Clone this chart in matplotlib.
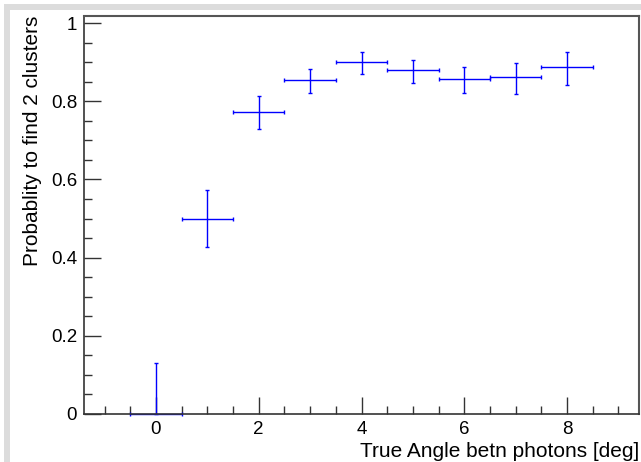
import matplotlib
matplotlib.use("Agg")
import matplotlib.pyplot as plt
from matplotlib.patches import Rectangle
from matplotlib.ticker import MultipleLocator

angles = [0, 1, 2, 3, 4, 5, 6, 7, 8]
prob = [0.0, 0.499, 0.773, 0.854, 0.901, 0.879, 0.857, 0.863, 0.888]
err_low = [0.0, 0.073, 0.045, 0.034, 0.031, 0.032, 0.037, 0.045, 0.047]
err_high = [0.130, 0.074, 0.041, 0.029, 0.024, 0.026, 0.030, 0.036, 0.037]
x_half = [0.5] * 9

plt.rcParams['font.family'] = ['Liberation Sans', 'DejaVu Sans']

W, H = 641, 462
fig = plt.figure(figsize=(W / 100, H / 100), dpi=100)
fig.patch.set_facecolor('white')
# window frame strips
fig.patches.append(Rectangle((4 / W, 0), 6 / W, (H - 4) / H, transform=fig.transFigure,
                             facecolor='#dcdcdc', edgecolor='none', zorder=0))
fig.patches.append(Rectangle((4 / W, (H - 10) / H), (W - 4) / W, 6 / H, transform=fig.transFigure,
                             facecolor='#dcdcdc', edgecolor='none', zorder=0))

left, right, top, bottom = 84, 639, 16, 414
ax = fig.add_axes([left / W, 1 - bottom / H, (right - left) / W, (bottom - top) / H])

ax.errorbar(angles, prob, xerr=x_half, yerr=[err_low, err_high], fmt='none',
            ecolor='#0000ff', elinewidth=1.0, capsize=1.5, capthick=1.0, clip_on=False)

ax.set_xlim(-1.4, 9.4)
ax.set_ylim(0, 1.018)

ax.xaxis.set_major_locator(MultipleLocator(2))
ax.xaxis.set_minor_locator(MultipleLocator(0.5))
ax.yaxis.set_major_locator(MultipleLocator(0.2))
ax.yaxis.set_minor_locator(MultipleLocator(0.05))
ax.set_yticks([0, 0.2, 0.4, 0.6, 0.8, 1.0])
ax.set_yticklabels(['0', '0.2', '0.4', '0.6', '0.8', '1'])

ax.tick_params(axis='both', which='major', direction='in', length=12, width=1.0,
               labelsize=13.5, color='#333333', top=False, right=False)
ax.tick_params(axis='both', which='minor', direction='in', length=6, width=1.0,
               color='#333333', top=False, right=False)
ax.tick_params(axis='x', pad=5)
ax.tick_params(axis='y', pad=5)

for s in ['left', 'bottom']:
    ax.spines[s].set_color('#333333')
    ax.spines[s].set_linewidth(1.2)
for s in ['top', 'right']:
    ax.spines[s].set_color('#555555')
    ax.spines[s].set_linewidth(1.5)

ax.set_xlabel('True Angle betn photons [deg]', fontsize=15, loc='right', labelpad=3)
ax.set_ylabel('Probablity to find 2 clusters', fontsize=15, loc='top', labelpad=6)

fig.savefig('out.png', dpi=100)
